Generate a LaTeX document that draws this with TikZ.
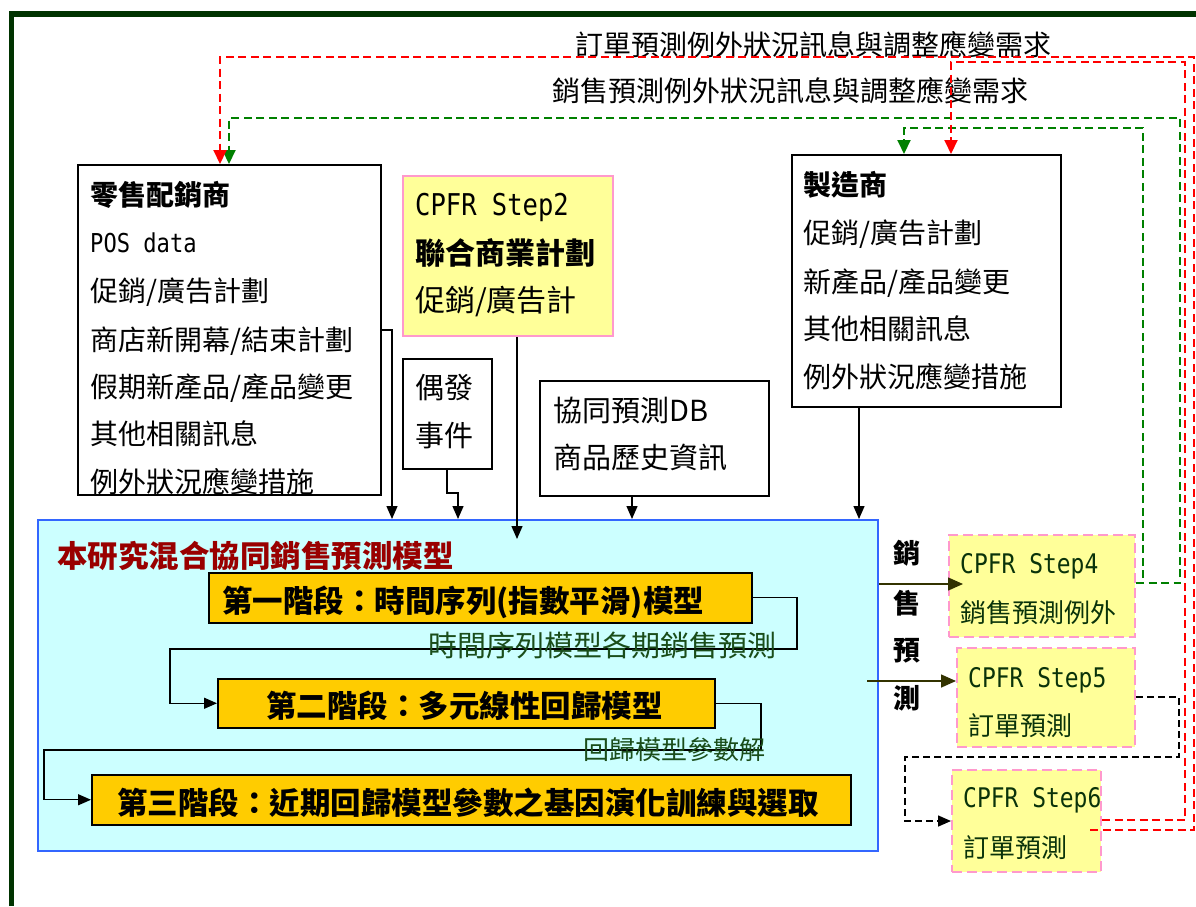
\documentclass[tikz,border=0pt]{standalone}
\usepackage{fontspec}
\setmainfont{Noto Sans CJK TC}
\newfontfamily\monof[FakeStretch=0.85]{DejaVu Sans Mono}
\usetikzlibrary{arrows.meta}
\newcommand{\myfs}[1]{\fontsize{#1}{#1}\selectfont}
\definecolor{frameg}{HTML}{003300}
\definecolor{yellowc}{HTML}{FFFF99}
\definecolor{pinkc}{HTML}{FF99CC}
\definecolor{stagec}{HTML}{FFCC00}
\definecolor{modelf}{HTML}{CCFFFF}
\definecolor{modelb}{HTML}{3366FF}
\definecolor{titler}{HTML}{990000}
\definecolor{labg}{HTML}{1A4D1A}
\definecolor{stepg}{HTML}{0A330A}
\definecolor{olivec}{HTML}{333300}
\definecolor{redc}{HTML}{FF0000}
\definecolor{greenc}{HTML}{008000}
\begin{document}
\begin{tikzpicture}[x=1pt,y=-1pt,
  wbox/.style={draw=black, line width=1.5pt, fill=white, inner sep=0pt, anchor=north west},
  ybox/.style={draw=pinkc, line width=2pt, fill=yellowc, inner sep=0pt, anchor=north west},
  ydbox/.style={ybox, dash pattern=on 10pt off 5pt},
  stagebox/.style={draw=black, line width=1.5pt, fill=stagec, inner sep=0pt, anchor=north west},
  modelbox/.style={draw=modelb, line width=2pt, fill=modelf, inner sep=0pt, anchor=north west},
  tx/.style={anchor=base west, inner sep=0pt, font=\myfs{28}},
  conn/.style={draw=black, line width=1.3pt, -{Triangle[length=13pt,width=11pt]}},
  oconn/.style={draw=olivec, line width=1.5pt, -{Triangle[length=15pt,width=13pt]}},
  kdash/.style={draw=black, line width=1.5pt, dash pattern=on 7pt off 4pt, -{Triangle[length=13pt,width=11pt]}},
  rdash/.style={draw=redc, line width=2pt, dash pattern=on 8pt off 4.5pt},
  gdash/.style={draw=greenc, line width=2pt, dash pattern=on 8pt off 4.5pt},
  rtip/.style={-{Triangle[length=14pt,width=13pt,fill=redc]}},
  gtip/.style={-{Triangle[length=14pt,width=13pt,fill=greenc]}},
  vtx/.style={anchor=base, inner sep=0pt, font=\myfs{27}\bfseries}
]
\useasboundingbox (0,0) rectangle (1196,906);
\fill[white] (0,0) rectangle (1196,906);

% outer frame (top and left edges)
\draw[frameg, line width=5.5pt, line join=miter] (11.5,906) -- (11.5,14) -- (1196,14);

% top labels
\node[tx] (toplab1) at (575,55) {訂單預測例外狀況訊息與調整應變需求};
\node[tx] (toplab2) at (552,101) {銷售預測例外狀況訊息與調整應變需求};

% model box
\node[modelbox, minimum width=840pt, minimum height=331pt] (model) at (37,519) {};

% boxes
\node[wbox, minimum width=303pt, minimum height=330pt] (ret) at (77,164) {};
\node[ybox, minimum width=210pt, minimum height=160pt] (step2) at (402,175) {};
\node[wbox, minimum width=89pt, minimum height=110pt] (ouf) at (402,358) {};
\node[wbox, minimum width=229pt, minimum height=115pt] (db) at (539,380) {};
\node[wbox, minimum width=269pt, minimum height=252pt] (mfr) at (791,154) {};
\node[stagebox, minimum width=543pt, minimum height=50pt] (s1) at (208,572) {};
\node[stagebox, minimum width=497pt, minimum height=49pt] (s2) at (217,678) {};
\node[stagebox, minimum width=759pt, minimum height=50pt] (s3) at (91,774) {};
\node[ydbox, minimum width=186pt, minimum height=102pt] (st4) at (948,534) {};
\node[ydbox, minimum width=178pt, minimum height=99pt] (st5) at (956,647) {};
\node[ydbox, minimum width=149pt, minimum height=102pt] (st6) at (951,769) {};

% retailer texts
\begin{scope}
\clip (78,165) rectangle (379,493);
\node[tx, font=\myfs{28}\bfseries] (r1) at (90,205) {零售配銷商};
\node[tx, font=\myfs{26}\monof] (r2) at (90,252) {POS data};
\node[tx] (r3) at (90,301) {促銷/廣告計劃};
\node[tx] (r4) at (90,350) {商店新開幕/結束計劃};
\node[tx] (r5) at (90,397) {假期新產品/產品變更};
\node[tx] (r6) at (90,444) {其他相關訊息};
\node[tx] (r7) at (90,492) {例外狀況應變措施};
\end{scope}

% step2 texts
\node[tx, font=\myfs{30}\monof] (p1) at (415,215) {CPFR Step2};
\node[tx, font=\myfs{30}\bfseries] (p2) at (415,264) {聯合商業計劃};
\node[tx, font=\myfs{30}] (p3) at (415,311) {促銷/廣告計};

% accidental events
\node[tx, font=\myfs{29}] (o1) at (415,398) {偶發};
\node[tx, font=\myfs{29}] (o2) at (415,446) {事件};

% DB
\node[tx, font=\myfs{29}] (d1) at (553,421) {協同預測DB};
\node[tx, font=\myfs{29}] (d2) at (553,468) {商品歷史資訊};

% manufacturer
\node[tx, font=\myfs{28}\bfseries] (m1) at (803,195) {製造商};
\node[tx] (m2) at (803,243) {促銷/廣告計劃};
\node[tx] (m3) at (803,292) {新產品/產品變更};
\node[tx] (m4) at (803,339) {其他相關訊息};
\node[tx] (m5) at (803,387) {例外狀況應變措施};

% model contents
\node[tx, font=\myfs{30.5}\bfseries, text=titler] (mt) at (57,567) {本研究混合協同銷售預測模型};
\node[tx, font=\myfs{30.5}\bfseries] (s1t) at (222,612) {第一階段：時間序列(指數平滑)模型};
\node[tx, font=\myfs{30.5}\bfseries] (s2t) at (266,717) {第二階段：多元線性回歸模型};
\node[tx, font=\myfs{30.5}\bfseries] (s3t) at (117,814) {第三階段：近期回歸模型參數之基因演化訓練與選取};

% stage connectors
\draw[conn] (s1.east) -| (797,649) -- (170,649) |- (s2.west);
\draw[conn] (s2.east) -| (761,750) -- (44,750) |- (s3.west);
\node[tx, font=\myfs{29}, text=labg] (lab1) at (428,656) {時間序列模型各期銷售預測};
\node[tx, font=\myfs{26}, text=labg] (lab2) at (583,759) {回歸模型參數解};

% inputs to model
\draw[conn] (ret.east |- 0,330) -| (model.north -| 392,0);
\draw[conn] (ouf.south -| 447,0) -- (447,493) -| (model.north -| 458,0);
\coordinate (c2) at (517,539);
\draw[conn] (step2.south -| 517,0) -- (c2);
\draw[conn] (db.south -| 632,0) -- (model.north -| 632,0);
\draw[conn] (mfr.south -| 859,0) -- (model.north -| 859,0);

% vertical label
\node[vtx] (v1) at (907,563) {銷};
\node[vtx] (v2) at (907,613) {售};
\node[vtx] (v3) at (907,660) {預};
\node[vtx] (v4) at (907,708) {測};

% model to steps
\coordinate (a4) at (963,584);
\draw[oconn] (model.east |- 0,584) -- (a4);
\draw[oconn] (867,681) -- (st5.west |- 0,681);

% step texts
\node[tx, font=\myfs{27}\monof, text=stepg] (q1) at (960,573) {CPFR Step4};
\node[tx, font=\myfs{26}, text=stepg] (q2) at (960,622) {銷售預測例外};
\node[tx, font=\myfs{27}\monof, text=stepg] (q3) at (968,687) {CPFR Step5};
\node[tx, font=\myfs{26}, text=stepg] (q4) at (968,735) {訂單預測};
\node[tx, font=\myfs{27}\monof, text=stepg] (q5) at (963,807) {CPFR Step6};
\node[tx, font=\myfs{26}, text=stepg] (q6) at (963,857) {訂單預測};

% black dashed step5 -> step6
\draw[kdash] (st5.east |- 0,697) -- (1179,697) -- (1179,757) -- (905,757) |- (st6.west);

% green feedback
\draw[gdash, gtip] (st4.east |- 0,583) -- (1180,583) -- (1180,118) -- (229,118) -- (ret.north -| 229,0);
\coordinate (g2) at (1143,578);
\draw[gdash, gtip] (g2) -- (1143,128) -- (904,128) -- (mfr.north -| 904,0);

% red feedback
\coordinate (r0) at (1090,830);
\draw[rdash, rtip] (r0) -- (1194,830) -- (1194,57) -- (220,57) -- (ret.north -| 220,0);
\draw[rdash, rtip] (st6.east |- 0,820) -- (1185,820) -- (1185,62) -- (951,62) -- (mfr.north -| 951,0);
\end{tikzpicture}
\end{document}
